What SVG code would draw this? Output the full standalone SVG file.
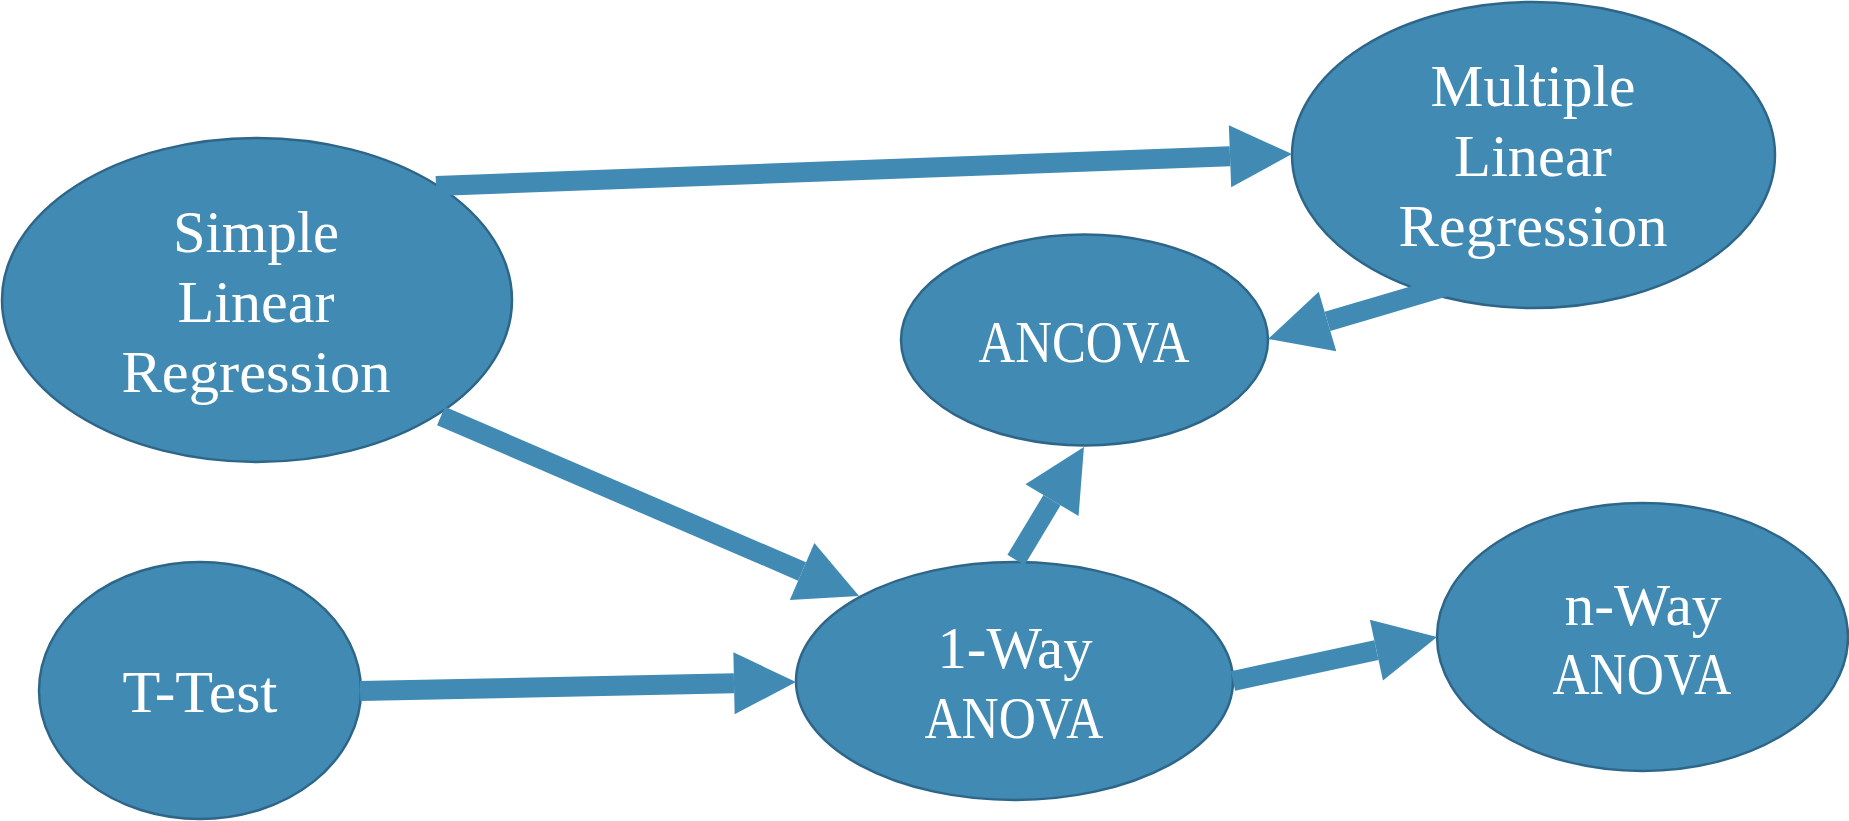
<svg xmlns="http://www.w3.org/2000/svg" width="1849" height="821" viewBox="0 0 1849 821">
<style>
.node{fill:#418AB3;stroke:#2E6689;stroke-width:2.5}
.lbl{fill:#FFFFFF;font-family:"Liberation Serif","Times New Roman",serif;font-size:60px;text-anchor:middle}
.conn{stroke:#418AB3;stroke-width:20;stroke-linecap:butt;fill:none;marker-end:url(#head)}
</style>
<defs>
<marker id="head" markerUnits="userSpaceOnUse" markerWidth="62" markerHeight="62" refX="0" refY="31" orient="auto" overflow="visible">
<path d="M0,0 L62,31 L0,62 Z" fill="#418AB3"/>
</marker>
</defs>
<rect width="1849" height="821" fill="#FFFFFF"/>
<g id="simple-linear-regression">
<ellipse class="node" cx="257" cy="300" rx="255" ry="162"/>
<text class="lbl" x="256" y="252" textLength="166" lengthAdjust="spacingAndGlyphs">Simple</text>
<text class="lbl" x="256" y="322" textLength="157" lengthAdjust="spacingAndGlyphs">Linear</text>
<text class="lbl" x="256" y="392" textLength="269" lengthAdjust="spacingAndGlyphs">Regression</text>
</g>
<g id="multiple-linear-regression">
<ellipse class="node" cx="1533.5" cy="155" rx="241.5" ry="153"/>
<text class="lbl" x="1533" y="106" textLength="205" lengthAdjust="spacingAndGlyphs">Multiple</text>
<text class="lbl" x="1533" y="176" textLength="158" lengthAdjust="spacingAndGlyphs">Linear</text>
<text class="lbl" x="1533" y="246" textLength="269" lengthAdjust="spacingAndGlyphs">Regression</text>
</g>
<g id="ancova">
<ellipse class="node" cx="1084.5" cy="340" rx="183.5" ry="105.5"/>
<text class="lbl" x="1084" y="362" textLength="211" lengthAdjust="spacingAndGlyphs">ANCOVA</text>
</g>
<g id="t-test">
<ellipse class="node" cx="200" cy="690.5" rx="161" ry="128.5"/>
<text class="lbl" x="200" y="712" textLength="155" lengthAdjust="spacingAndGlyphs">T-Test</text>
</g>
<g id="one-way-anova">
<ellipse class="node" cx="1014.5" cy="681" rx="218.5" ry="119"/>
<text class="lbl" x="1015" y="668" textLength="155" lengthAdjust="spacingAndGlyphs">1-Way</text>
<text class="lbl" x="1014" y="738" textLength="179" lengthAdjust="spacingAndGlyphs">ANOVA</text>
</g>
<g id="n-way-anova">
<ellipse class="node" cx="1642.5" cy="637" rx="205.5" ry="134"/>
<text class="lbl" x="1643" y="625" textLength="157" lengthAdjust="spacingAndGlyphs">n-Way</text>
<text class="lbl" x="1642" y="694" textLength="179" lengthAdjust="spacingAndGlyphs">ANOVA</text>
</g>
<g id="connectors">
<line class="conn" x1="436" y1="186" x2="1230" y2="156.3"/>
<line class="conn" x1="441" y1="416" x2="802.1" y2="571.5"/>
<line class="conn" x1="360" y1="691" x2="734" y2="683.3"/>
<line class="conn" x1="1016" y1="560" x2="1052" y2="500.1"/>
<line class="conn" x1="1471" y1="279" x2="1327.5" y2="321.4"/>
<line class="conn" x1="1233" y1="681" x2="1376.4" y2="650.1"/>
</g>
</svg>
